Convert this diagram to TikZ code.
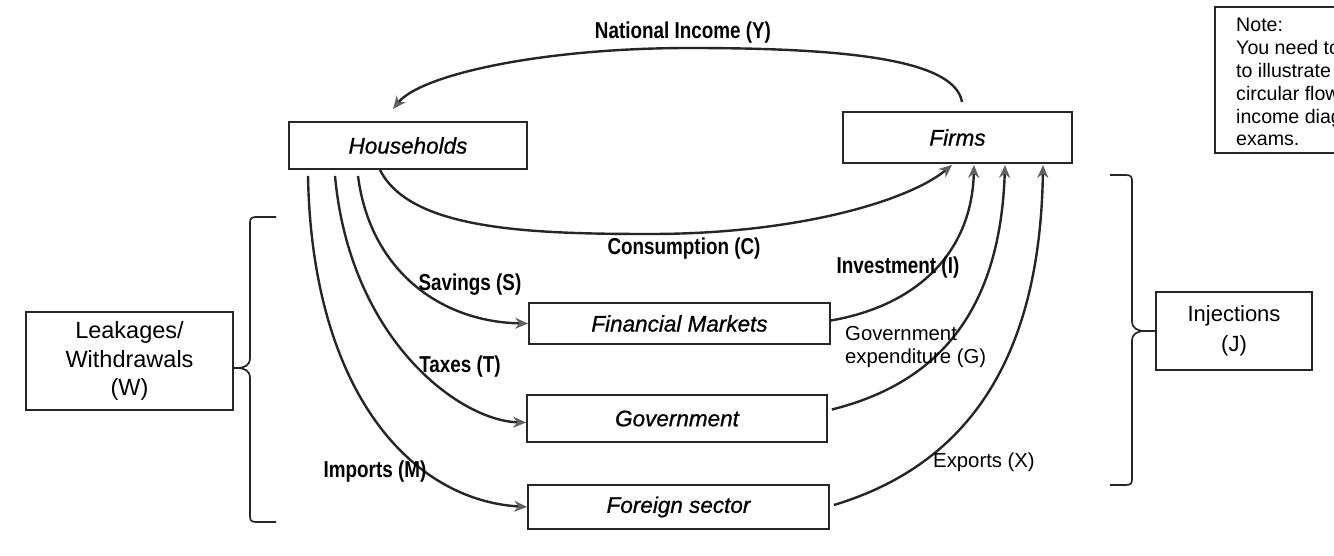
\documentclass[tikz,border=0pt]{standalone}
\usepackage{fontspec}
\setmainfont{Liberation Sans}
\newfontfamily\lblfont[FakeStretch=0.82]{Liberation Sans}
\newfontfamily\boxfont[FakeBold=0.8]{Liberation Sans}
\usetikzlibrary{arrows.meta}
\begin{document}
\begin{tikzpicture}[x=1pt,y=-1pt,
  box/.style={draw=black!85, line width=1.8pt, inner sep=0pt, font=\boxfont\itshape\fontsize{22.5}{27}\selectfont},
  flow/.style={draw=black!85, line width=2.4pt, -{Stealth[length=13pt,width=11pt,color=black!62]}},
  lbl/.style={inner sep=0pt, font=\lblfont\bfseries\fontsize{23}{27}\selectfont},
  txt/.style={inner sep=0pt, font=\fontsize{20.3}{23}\selectfont, align=left},
  notetxt/.style={inner sep=0pt, anchor=base west, font=\fontsize{19.6}{23}\selectfont},
  bracestyle/.style={draw=black!85, line width=1.7pt}]
\clip (0,0) rectangle (1334,556);
\fill[white] (0,0) rectangle (1334,556);

% boxes
\node[box, minimum width=238pt, minimum height=47pt] (hh) at (408,145.5) {Households};
\node[box, minimum width=229pt, minimum height=51pt] (firms) at (957.5,137.5) {Firms};
\node[box, minimum width=301pt, minimum height=41pt] (fm) at (679.5,323.5) {Financial Markets};
\node[box, minimum width=300pt, minimum height=47pt] (gov) at (677,418.5) {Government};
\node[box, minimum width=301pt, minimum height=44pt] (fs) at (678.5,507) {Foreign sector};
\node[draw=black!85, line width=1.7pt, inner sep=0pt, minimum width=207pt, minimum height=98pt,
      align=center, font=\fontsize{23.5}{28.5}\selectfont] (lw) at (129.5,361) {Leakages/\\Withdrawals\\(W)};
\node[draw=black!85, line width=1.7pt, inner sep=0pt, minimum width=156pt, minimum height=78pt,
      align=center, font=\fontsize{22}{30}\selectfont] (inj) at (1234,331) {Injections\\(J)};
\node[draw=black!85, line width=1.7pt, inner sep=0pt, minimum width=140pt, minimum height=146pt] (note) at (1285,80) {};

% note text
\node[notetxt] (n1) at (1236,32) {Note:};
\node[notetxt] (n2) at (1236,55) {You need to};
\node[notetxt] (n3) at (1236,78) {to illustrate};
\node[notetxt] (n4) at (1236,101) {circular flow};
\node[notetxt] (n5) at (1236,124) {income diag};
\node[notetxt] (n6) at (1236,146) {exams.};

% national income
\draw[flow] ([xshift=4.5pt,yshift=9pt]firms.north) .. controls (955,60) and (850,48) .. (690,48)
  .. controls (540,48) and (420,75) .. ([xshift=-15pt,yshift=12pt]hh.north);
% consumption
\draw[flow] ([xshift=-28pt]hh.south) .. controls (410,230) and (530,234) .. (650,234)
  .. controls (800,234) and (910,200) .. ([xshift=-5.5pt,yshift=-1pt]firms.south);
% leakages
\draw[flow] ([xshift=-50pt,yshift=-6pt]hh.south) .. controls (370,270) and (440,322) .. (fm.west);
\draw[flow] ([xshift=-73pt,yshift=-6pt]hh.south) .. controls (350,340) and (460,421) .. ([yshift=-4pt]gov.west);
\draw[flow] ([xshift=-100pt,yshift=-6pt]hh.south) .. controls (312,390) and (410,500) .. (fs.west);
% injections
\draw[flow] ([yshift=3pt]fm.east) .. controls (920,305) and (972,250) .. ([xshift=16.5pt,yshift=-1pt]firms.south);
\draw[flow] ([xshift=4pt,yshift=9pt]gov.east) .. controls (930,385) and (1000,320) .. ([xshift=47.5pt,yshift=-1pt]firms.south);
\draw[flow] ([xshift=4pt,yshift=2pt]fs.east) .. controls (950,470) and (1040,380) .. ([xshift=85.5pt,yshift=-1pt]firms.south);

% flow labels
\node[lbl] (lni) at (683,33) {National Income (Y)};
\node[lbl] (lc) at (684,249) {Consumption (C)};
\node[lbl] (ls) at (470,285) {Savings (S)};
\node[lbl] (lt) at (460,367) {Taxes (T)};
\node[lbl] (lm) at (375,472) {Imports (M)};
\node[lbl] (li) at (898,268) {Investment (I)};
\node[txt, anchor=west] (lg) at (845,347) {Government\\expenditure (G)};
\node[txt] (lx) at (984,462) {Exports (X)};

% braces
\coordinate (lwtip) at ([yshift=-7pt]lw.east);
\draw[bracestyle] (276,217) -- (256,217) .. controls (251,217) and (250,219) .. (250,223)
  -- (250,358) .. controls (250,365) and (245,368) .. (237,368)
  .. controls (245,368) and (250,371) .. (250,378)
  -- (250,516) .. controls (250,520) and (251,522) .. (256,522) -- (276,522);
\draw[bracestyle] (lwtip) -- (237,368);
\coordinate (injtip) at (inj.west);
\draw[bracestyle] (1110,175) -- (1126,175) .. controls (1131,175) and (1132,177) .. (1132,181)
  -- (1132,321) .. controls (1132,328) and (1137,331) .. (1145,331)
  .. controls (1137,331) and (1132,334) .. (1132,341)
  -- (1132,479) .. controls (1132,483) and (1131,485) .. (1126,485) -- (1110,485);
\draw[bracestyle] (1145,331) -- (injtip);
\end{tikzpicture}
\end{document}
